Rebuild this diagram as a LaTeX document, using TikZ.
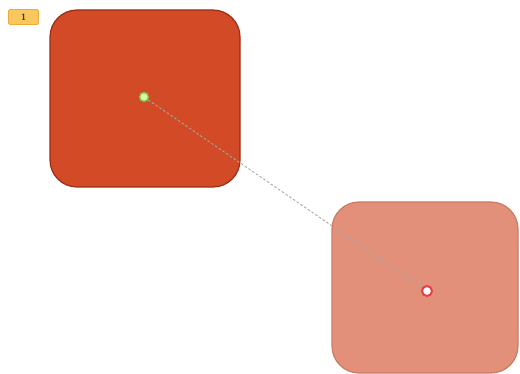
\documentclass[tikz,border=0pt]{standalone}
\usetikzlibrary{calc}
\definecolor{darkfill}{HTML}{D24A26}
\definecolor{darkedge}{HTML}{9A2E16}
\definecolor{lightfill}{HTML}{E3907A}
\definecolor{lightedge}{HTML}{CB7A64}
\definecolor{badgefill}{HTML}{FAC75C}
\definecolor{badgeedge}{HTML}{EEA93A}
\definecolor{greendot}{HTML}{D6F5A8}
\definecolor{greenedge}{HTML}{7CC23A}
\definecolor{reddot}{HTML}{E8404A}
\tikzset{
  box/.style={rounded corners=27pt, line width=1.2pt},
  badge/.style={draw=badgeedge, fill=badgefill, rounded corners=1.5pt, line width=0.8pt, inner sep=0pt, minimum width=30pt, minimum height=15pt, font=\sffamily\bfseries\small, text=black!80},
  startpt/.style={circle, fill=greendot, draw=greenedge, line width=1.3pt, minimum size=9pt, inner sep=0pt},
  endpt/.style={circle, fill=white, draw=reddot, line width=2pt, minimum size=10pt, inner sep=0pt},
  path/.style={draw=gray!70, dashed, line width=0.9pt, dash pattern=on 2.5pt off 2pt}
}
\begin{document}
\begin{tikzpicture}[x=1pt,y=-1pt]
\useasboundingbox (0,0) rectangle (520,374);
\fill[white] (0,0) rectangle (520,374);
\draw[box, fill=lightfill, draw=lightedge] (332,202) rectangle (518,373);
\draw[box, fill=darkfill, draw=darkedge] (50,10) rectangle (240,187);
\node[badge] (b) at (23.5,17) {1};
\node[startpt] (s) at (144,97) {};
\node[endpt] (e) at (427,291) {};
\draw[path] (s) -- (e);
\end{tikzpicture}
\end{document}
